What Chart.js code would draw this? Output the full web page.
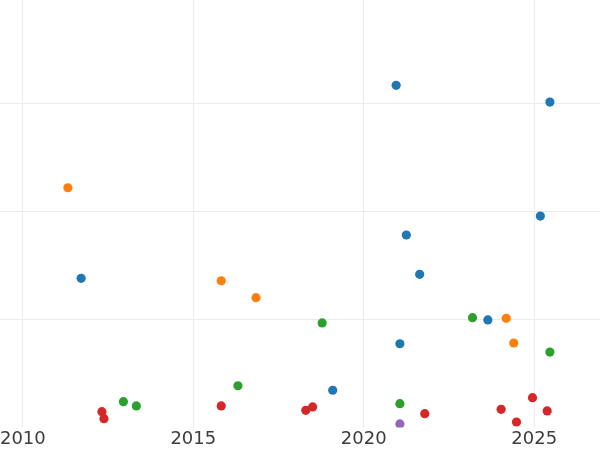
<!DOCTYPE html>
<html>
<head>
<meta charset="utf-8">
<script src="https://cdn.jsdelivr.net/npm/chart.js@4/dist/chart.umd.min.js"></script>
<style>
  html, body { margin: 0; padding: 0; background: #fff; }
  #wrap { width: 600px; height: 450px; }
</style>
</head>
<body>
<div id="wrap"><canvas id="scatterChart"></canvas></div>
<script>
// tick labels
var yearTicks = [2010, 2015, 2020, 2025];
var valueTicks = [10, 20, 30];

// series (year, value)
var blueYears = [2011.71, 2019.09, 2021.06, 2020.95, 2021.25, 2021.64, 2023.64, 2025.18, 2025.46];
var blueValues = [13.81, 3.41, 7.73, 31.73, 17.83, 14.18, 9.94, 19.59, 30.18];

var orangeYears = [2011.32, 2015.82, 2016.84, 2024.18, 2024.40];
var orangeValues = [22.22, 13.58, 12.01, 10.09, 7.80];

var greenYears = [2012.95, 2013.33, 2016.31, 2018.78, 2021.06, 2023.19, 2025.46];
var greenValues = [2.35, 1.95, 3.83, 9.66, 2.16, 10.15, 6.96];

var redYears = [2012.32, 2012.38, 2015.82, 2018.30, 2018.50, 2021.79, 2024.03, 2024.48, 2024.95, 2025.38];
var redValues = [1.42, 0.77, 1.95, 1.55, 1.86, 1.23, 1.64, 0.46, 2.72, 1.49];

var purpleYears = [2021.06];
var purpleValues = [0.28];

function toPoints(xs, ys) {
    return xs.map(function (x, i) { return { x: x, y: ys[i] }; });
}

function series(label, xs, ys, color) {
    return {
        label: label,
        data: toPoints(xs, ys),
        backgroundColor: color,
        borderWidth: 0,
        pointRadius: 4.6,
        pointHoverRadius: 4.6,
        clip: 0
    };
}

var ctx = document.getElementById('scatterChart').getContext('2d');
var myChart = new Chart(ctx, {
    type: 'scatter',
    data: {
        datasets: [
            series('A', blueYears, blueValues, '#1f77b4'),
            series('B', orangeYears, orangeValues, '#ff7f0e'),
            series('C', greenYears, greenValues, '#2ca02c'),
            series('D', redYears, redValues, '#d62728'),
            series('E', purpleYears, purpleValues, '#9467bd')
        ]
    },
    options: {
        responsive: true,
        maintainAspectRatio: false,
        animation: false,
        layout: { padding: 0, autoPadding: false },
        plugins: {
            legend: { display: false },
            tooltip: { enabled: false }
        },
        scales: {
            x: {
                type: 'linear',
                min: 2009.33,
                max: 2026.93,
                border: { display: false },
                grid: { color: '#ebebeb', lineWidth: 1, drawTicks: false },
                afterBuildTicks: function (axis) {
                    axis.ticks = yearTicks.map(function (v) { return { value: v }; });
                },
                afterFit: function (axis) {
                    // plot runs to the canvas edges, labels may overhang
                    axis.paddingLeft = 0;
                    axis.paddingRight = 0;
                    axis.height = 22.5;
                },
                ticks: {
                    padding: 3,
                    color: '#3d3d3d',
                    font: { family: 'DejaVu Sans', size: 18, lineHeight: 1 },
                    maxRotation: 0,
                    callback: function (v) { return String(v); }
                }
            },
            y: {
                min: -0.05,
                max: 39.66,
                border: { display: false },
                grid: { color: '#ebebeb', lineWidth: 1, drawTicks: false },
                afterBuildTicks: function (axis) {
                    axis.ticks = valueTicks.map(function (v) { return { value: v }; });
                },
                ticks: { display: false }
            }
        }
    }
});
</script>
</body>
</html>
